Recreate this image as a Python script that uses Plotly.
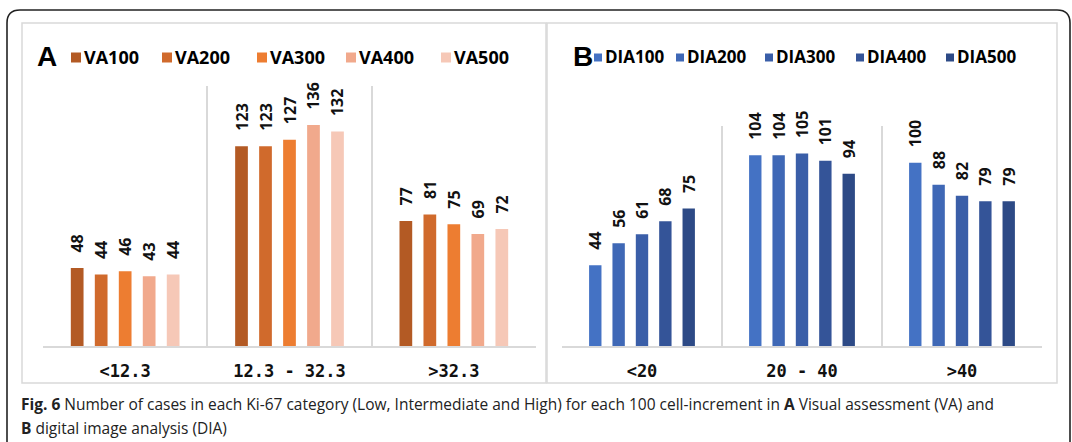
import plotly.graph_objects as go

W, H = 1072, 442

# Ki-67 categories for each assessment method
va_categories = ["<12.3", "12.3 - 32.3", ">32.3"]
dia_categories = ["<20", "20 - 40", ">40"]

# Visual assessment (VA), number of cases per category
va_names = ["VA100", "VA200", "VA300", "VA400", "VA500"]
va100 = [48, 123, 77]
va200 = [44, 123, 81]
va300 = [46, 127, 75]
va400 = [43, 136, 69]
va500 = [44, 132, 72]
va_colors = ["#B35A24", "#D06A2C", "#ED7D31", "#F1A98C", "#F6C8B7"]

# Digital image analysis (DIA), number of cases per category
dia_names = ["DIA100", "DIA200", "DIA300", "DIA400", "DIA500"]
dia100 = [44, 104, 100]
dia200 = [56, 104, 88]
dia300 = [61, 105, 82]
dia400 = [68, 101, 79]
dia500 = [75, 94, 79]
dia_colors = ["#4472C4", "#3F68B6", "#3A5EA8", "#345498", "#2D4A86"]

# key swatch centres (px) along the header row of each panel
va_key_x = [76, 167, 262, 351, 446]
dia_key_x = [598, 680, 769, 860, 950]


def px_x(v):
    return v / W


def px_y(v):
    return 1 - v / H


LABEL_FONT = dict(family="Open Sans", size=16, color="#111111", weight="bold")
PAD = "\u00a0\u00a0\u00a0"

fig = go.Figure()

for name, vals, col in zip(va_names, [va100, va200, va300, va400, va500], va_colors):
    fig.add_trace(go.Bar(
        name=name, x=va_categories, y=vals, marker=dict(color=col, line=dict(width=0)),
        xaxis="x", yaxis="y",
        texttemplate=PAD + "%{y}", textposition="outside", textangle=-90,
        textfont=LABEL_FONT, constraintext="none", cliponaxis=False,
        hoverinfo="skip",
    ))

for name, vals, col in zip(dia_names, [dia100, dia200, dia300, dia400, dia500], dia_colors):
    fig.add_trace(go.Bar(
        name=name, x=dia_categories, y=vals, marker=dict(color=col, line=dict(width=0)),
        xaxis="x2", yaxis="y2",
        texttemplate=PAD + "%{y}", textposition="outside", textangle=-90,
        textfont=LABEL_FONT, constraintext="none", cliponaxis=False,
        hoverinfo="skip",
    ))

GRID = "#D9D9D9"
cat_font = dict(family="DejaVu Sans Mono", size=17, color="#111111", weight="bold")

xaxis_common = dict(
    type="category", tickson="boundaries", showgrid=True, gridcolor=GRID, gridwidth=1.5,
    showline=True, linecolor=GRID, linewidth=1.5, ticks="", tickfont=cat_font,
    tickangle=0, ticklabelstandoff=9, zeroline=False, fixedrange=True,
)
yaxis_common = dict(visible=False, showgrid=False, zeroline=False, fixedrange=True)

# outer rounded border of the figure panel
r = 13
L, T, R, B = 7, 10, 1070, 460
outer = (
    f"M {px_x(L)},{px_y(B)} L {px_x(L)},{px_y(T + r)} "
    f"Q {px_x(L)},{px_y(T)} {px_x(L + r)},{px_y(T)} "
    f"L {px_x(R - r)},{px_y(T)} "
    f"Q {px_x(R)},{px_y(T)} {px_x(R)},{px_y(T + r)} "
    f"L {px_x(R)},{px_y(B)}"
)

shapes = [
    dict(type="rect", xref="paper", yref="paper", layer="below",
         x0=px_x(22), x1=px_x(546), y0=px_y(383), y1=px_y(23),
         line=dict(color=GRID, width=1.5), fillcolor="white"),
    dict(type="rect", xref="paper", yref="paper", layer="below",
         x0=px_x(547), x1=px_x(1057), y0=px_y(383), y1=px_y(23),
         line=dict(color=GRID, width=1.5), fillcolor="white"),
    dict(type="path", xref="paper", yref="paper", path=outer,
         line=dict(color="#222222", width=1.6)),
]

cap_font = dict(family="Open Sans", size=15.5, color="#222222")
annotations = [
    dict(text="<b>A</b>", x=px_x(35), y=px_y(57), xref="paper", yref="paper",
         xanchor="left", yanchor="middle", showarrow=False,
         font=dict(family="Liberation Sans", size=28, color="#000000")),
    dict(text="<b>B</b>", x=px_x(571), y=px_y(57), xref="paper", yref="paper",
         xanchor="left", yanchor="middle", showarrow=False,
         font=dict(family="Liberation Sans", size=28, color="#000000")),
    dict(text="<b>Fig. 6</b> Number of cases in each Ki-67 category (Low, Intermediate and High) "
              "for each 100 cell-increment in <b>A</b> Visual assessment (VA) and",
         x=px_x(19), y=px_y(404), xref="paper", yref="paper",
         xanchor="left", yanchor="middle", showarrow=False, font=cap_font),
    dict(text="<b>B</b> digital image analysis (DIA)",
         x=px_x(19), y=px_y(428), xref="paper", yref="paper",
         xanchor="left", yanchor="middle", showarrow=False, font=cap_font),
]

# series keys: a coloured swatch followed by the series name
key_font = dict(family="Open Sans", size=18, color="#000000", weight="bold")


def add_keys(names, colors, centres, half, gap, size):
    for name, col, cx in zip(names, colors, centres):
        shapes.append(dict(type="rect", xref="paper", yref="paper",
                           x0=px_x(cx - half), x1=px_x(cx + half),
                           y0=px_y(57.5 + half), y1=px_y(57.5 - half),
                           line=dict(width=0), fillcolor=col))
        annotations.append(dict(text=name, x=px_x(cx + half + gap), y=px_y(57),
                                xref="paper", yref="paper", xanchor="left",
                                yanchor="middle", showarrow=False,
                                font=dict(key_font, size=size)))


add_keys(va_names, va_colors, va_key_x, 5, 1, 18)
add_keys(dia_names, dia_colors, dia_key_x, 4, 1, 17)

fig.update_layout(
    width=W, height=H, margin=dict(l=0, r=0, t=0, b=0, autoexpand=False),
    paper_bgcolor="white", plot_bgcolor="rgba(0,0,0,0)",
    barmode="group", bargap=0.27, bargroupgap=0.47,
    xaxis=dict(domain=[px_x(43), px_x(536)], anchor="y", **xaxis_common),
    yaxis=dict(domain=[px_y(346), px_y(86)], range=[0, 160], anchor="x", **yaxis_common),
    xaxis2=dict(domain=[px_x(562), px_x(1042)], anchor="y2", **xaxis_common),
    yaxis2=dict(domain=[px_y(346), px_y(126)], range=[0, 120], anchor="x2", **yaxis_common),
    shapes=shapes,
    annotations=annotations,
    showlegend=False,
)

fig.write_html("out.html")
